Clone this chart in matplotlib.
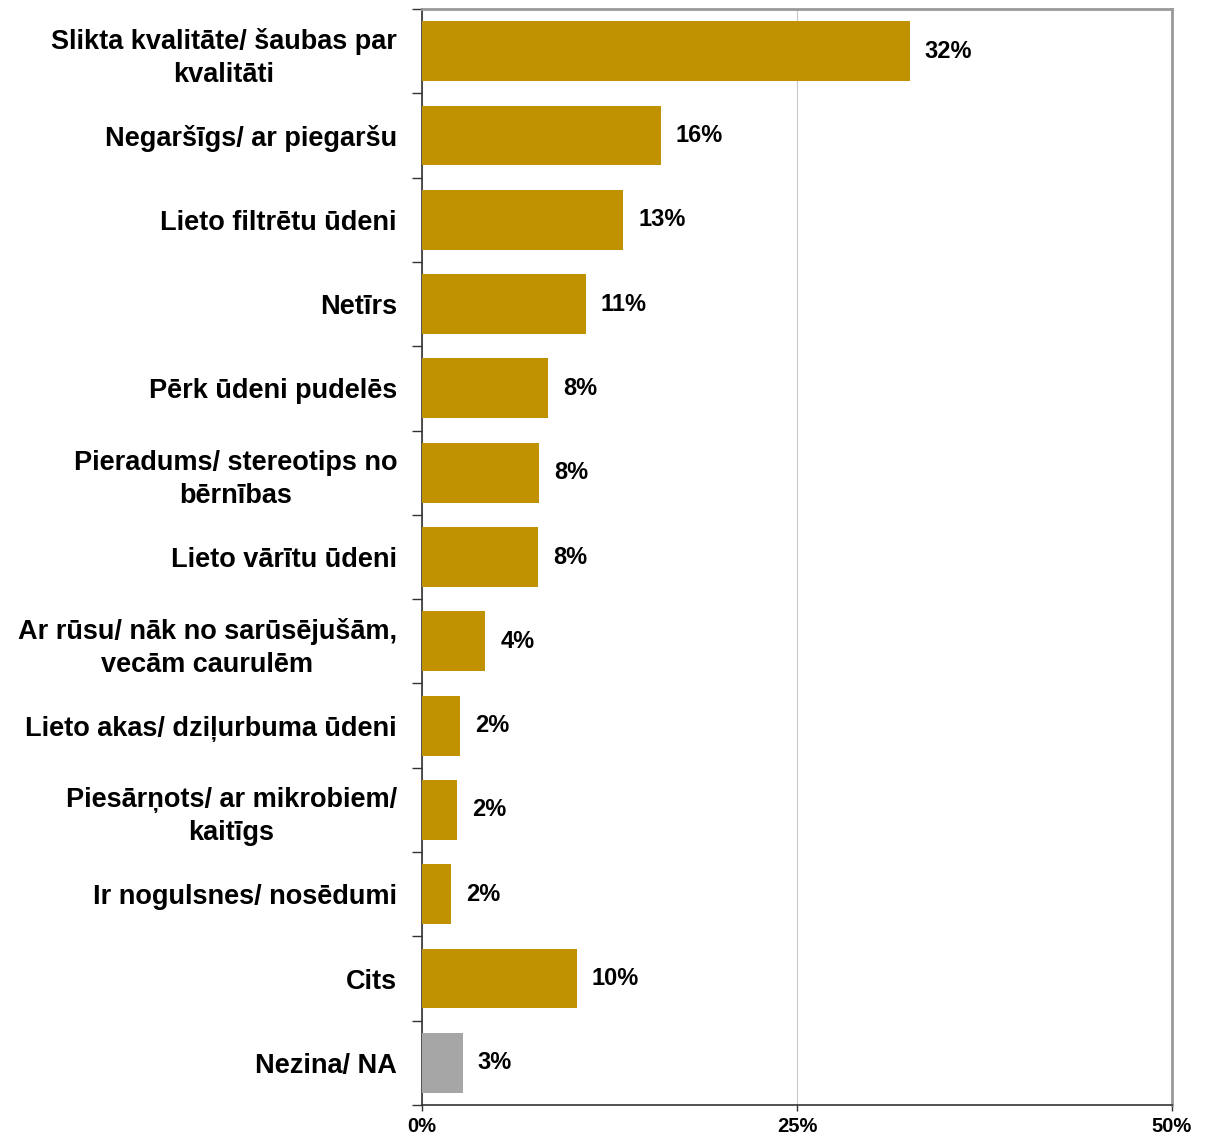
import numpy as np
import matplotlib.pyplot as plt

plt.rcParams['font.family'] = ['Liberation Sans', 'DejaVu Sans']
plt.rcParams['font.weight'] = 'bold'

categories = [
    'Slikta kvalitāte/ šaubas par\nkvalitāti',
    'Negaršīgs/ ar piegaršu',
    'Lieto filtrētu ūdeni',
    'Netīrs',
    'Pērk ūdeni pudelēs',
    'Pieradums/ stereotips no\nbērnības',
    'Lieto vārītu ūdeni',
    'Ar rūsu/ nāk no sarūsējušām,\nvecām caurulēm',
    'Lieto akas/ dziļurbuma ūdeni',
    'Piesārņots/ ar mikrobiem/\nkaitīgs',
    'Ir nogulsnes/ nosēdumi',
    'Cits',
    'Nezina/ NA',
]
values = [32.5, 15.9, 13.4, 10.9, 8.4, 7.8, 7.7, 4.2, 2.5, 2.3, 1.9, 10.3, 2.7]
labels = ['32%', '16%', '13%', '11%', '8%', '8%', '8%', '4%', '2%', '2%', '2%', '10%', '3%']
colors = ['#c09100'] * 12 + ['#a6a6a6']

fig = plt.figure(figsize=(12.05, 11.38), dpi=100)
ax = fig.add_axes([422 / 1205, 1 - 1105 / 1138, 750 / 1205, 1096 / 1138])

y = np.arange(len(categories))
ax.barh(y, values, height=0.71, color=colors, zorder=3)
for yi, v, lab in zip(y, values, labels):
    ax.annotate(lab, (v, yi), xytext=(11, 0), textcoords='offset points',
                va='center', ha='left', fontsize=17, fontweight='bold')

ax.set_ylim(len(categories) - 0.5, -0.5)
ax.set_xlim(0, 50)
ax.set_xticks([0, 25, 50])
ax.set_xticklabels(['0%', '25%', '50%'], fontsize=14.5, fontweight='bold')
ax.xaxis.grid(True, color='#c8c8c8', linewidth=0.8, zorder=0)

ax.set_yticks(y)
ax.set_yticklabels(categories, fontsize=19.5, fontweight='bold',
                   multialignment='center', linespacing=1.35)
ax.set_yticks(np.arange(len(categories) + 1) - 0.5, minor=True)
ax.tick_params(axis='y', which='major', length=0, pad=18)
ax.tick_params(axis='y', which='minor', length=7, width=1, color='#333333')
ax.tick_params(axis='x', length=4, width=1, color='#333333', pad=5)

ax.spines['left'].set_color('#333333')
ax.spines['bottom'].set_color('#333333')
ax.spines['top'].set_color('#999999')
ax.spines['right'].set_color('#999999')
ax.spines['top'].set_linewidth(2)
ax.spines['right'].set_linewidth(2)
ax.spines['left'].set_linewidth(1.2)
ax.spines['bottom'].set_linewidth(1.2)

fig.savefig('out.png', dpi=100)
